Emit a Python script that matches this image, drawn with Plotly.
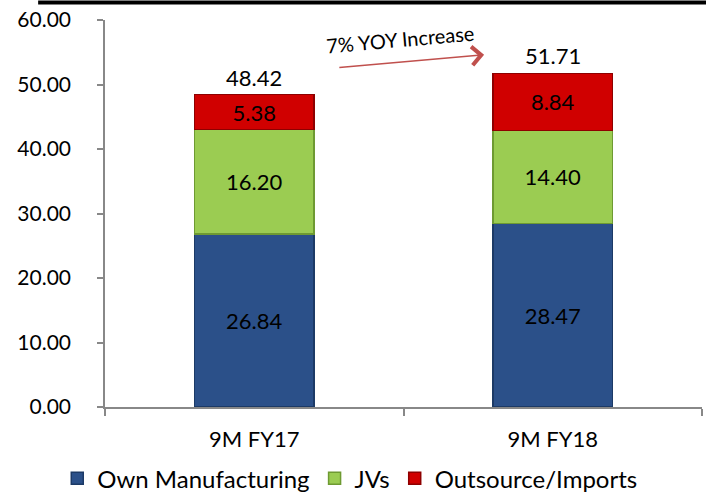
import plotly.graph_objects as go

categories = ["9M FY17", "9M FY18"]
own_manufacturing = [26.84, 28.47]
jvs = [16.20, 14.40]
outsource_imports = [5.38, 8.84]
totals = [48.42, 51.71]
y_ticks = [0, 10, 20, 30, 40, 50, 60]
yoy_label = "7% YOY Increase"

FONT = "Lato"

fig = go.Figure()
series = [
    ("Own Manufacturing", own_manufacturing, "#2B5089", "#1C3A66"),
    ("JVs", jvs, "#9BCC52", "#6E9A32"),
    ("Outsource/Imports", outsource_imports, "#D00000", "#8E0000"),
]
for name, vals, col, lc in series:
    fig.add_trace(go.Bar(
        name=name, x=categories, y=vals,
        marker=dict(color=col, line=dict(color=lc, width=1.5)),
        texttemplate="%{y:.2f}", textposition="inside",
        insidetextanchor="middle", textangle=0,
        textfont=dict(family=FONT, size=22, color="black"),
        constraintext="none",
    ))

for c, t in zip(categories, totals):
    fig.add_annotation(x=c, y=t, text=f"{t:.2f}", showarrow=False,
                       yanchor="bottom", yshift=2,
                       font=dict(family=FONT, size=22, color="black"))

# arrow
fig.add_annotation(x=0.77, y=54.6, ax=0.28, ay=52.6, axref="x", ayref="y",
                   xref="x", yref="y", text="", showarrow=True,
                   arrowhead=4, arrowsize=2.4, arrowwidth=1.5,
                   arrowcolor="#C0504D")
fig.add_annotation(x=0.49, y=57.0, text=yoy_label, showarrow=False,
                   textangle=-5, font=dict(family=FONT, size=20, color="black"))

fig.add_shape(type="line", xref="paper", yref="paper",
              x0=-0.112, x1=1.01, y0=1.045, y1=1.045,
              line=dict(color="black", width=4))

fig.update_layout(
    barmode="stack", bargap=0.6,
    width=706, height=492,
    margin=dict(l=105, r=4, t=20, b=85, autoexpand=False),
    plot_bgcolor="white", paper_bgcolor="white",
    font=dict(family=FONT, size=20, color="black"),
    showlegend=True,
    legend=dict(orientation="h", x=0.41, xanchor="center", y=-0.185,
                yanchor="middle", font=dict(family=FONT, size=24),
                itemwidth=30, traceorder="normal"),
    xaxis=dict(showline=True, linecolor="#888888", linewidth=1.5,
               ticks="outside", tickson="boundaries", ticklen=7,
               tickcolor="#888888", tickwidth=1.5, ticklabelstandoff=12,
               tickfont=dict(family=FONT, size=22)),
    yaxis=dict(range=[0, 60], tickvals=y_ticks, tickformat=".2f",
               showline=True, linecolor="#888888", linewidth=1.5,
               ticks="outside", ticklen=6, tickcolor="#888888", tickwidth=1.5,
               ticklabelstandoff=22,
               showgrid=False, zeroline=False,
               tickfont=dict(family=FONT, size=21)),
)

fig.write_html("out.html", config={"displayModeBar": False},
               post_script="document.body.style.margin='0';document.body.style.overflow='hidden';")
